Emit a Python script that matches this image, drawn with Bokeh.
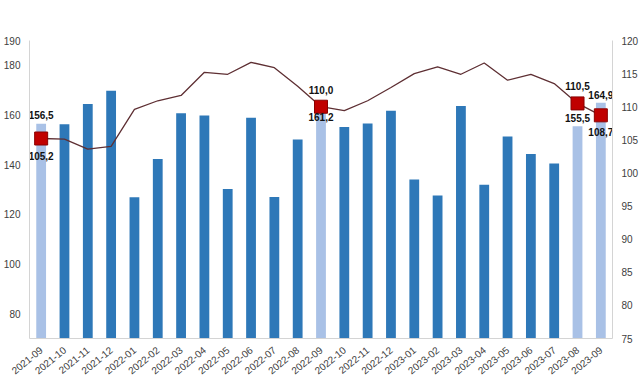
from bokeh.plotting import figure
from bokeh.models import Range1d, LinearAxis, FixedTicker, ColumnDataSource
from bokeh.embed import file_html
from bokeh.resources import INLINE
from bokeh.core.properties import value

# Monthly categories
months = [
    "2021-09", "2021-10", "2021-11", "2021-12",
    "2022-01", "2022-02", "2022-03", "2022-04", "2022-05", "2022-06",
    "2022-07", "2022-08", "2022-09", "2022-10", "2022-11", "2022-12",
    "2023-01", "2023-02", "2023-03", "2023-04", "2023-05", "2023-06",
    "2023-07", "2023-08", "2023-09",
]

# Bar series (left axis)
bar_values = [
    156.5, 156.3, 164.4, 169.8,
    126.9, 142.3, 160.7, 159.8, 130.2, 158.9,
    127.0, 150.1, 161.2, 155.2, 156.6, 161.7,
    134.0, 127.6, 163.6, 131.9, 151.3, 144.3,
    140.5, 155.5, 164.9,
]

# Line series (right axis)
line_values = [
    105.2, 105.1, 103.6, 104.0,
    109.6, 110.9, 111.7, 115.2, 114.9, 116.7,
    115.9, 113.1, 110.0, 109.4, 110.9, 112.9,
    115.0, 116.0, 114.9, 116.6, 114.0, 114.9,
    113.5, 110.5, 108.7,
]

# Months drawn in the pale colour, with markers and value labels
highlight_months = ["2021-09", "2022-09", "2023-08", "2023-09"]

left_ticks = [80, 100, 120, 140, 160, 180, 190]
right_ticks = [75, 80, 85, 90, 95, 100, 105, 110, 115, 120]

FONT = "Liberation Sans"
DARK_BAR = "#2e78b8"
LIGHT_BAR = "#a9c1e6"
LINE_COL = "#5e2f33"
MARKER_FILL = "#c00000"
MARKER_EDGE = "#8a0000"

# label offsets in screen pixels (positive = down)
bar_label_dy = {"2021-09": -9, "2022-09": 5, "2023-08": -8, "2023-09": -8}
line_label_dy = {"2021-09": 17, "2022-09": -17, "2023-08": -17, "2023-09": 17}


def fmt(v):
    return f"{v:.1f}".replace(".", ",")


colors = [LIGHT_BAR if m in highlight_months else DARK_BAR for m in months]
bars = ColumnDataSource(dict(month=months, val=bar_values, color=colors))
trend = ColumnDataSource(dict(month=months, val=line_values))

hi_bar_vals = [bar_values[months.index(m)] for m in highlight_months]
hi_line_vals = [line_values[months.index(m)] for m in highlight_months]

marks = ColumnDataSource(dict(month=highlight_months, val=hi_line_vals))
bar_lbl = ColumnDataSource(dict(
    month=highlight_months, val=hi_bar_vals,
    text=[fmt(v) for v in hi_bar_vals],
    dy=[bar_label_dy[m] for m in highlight_months],
))
line_lbl = ColumnDataSource(dict(
    month=highlight_months, val=hi_line_vals,
    text=[fmt(v) for v in hi_line_vals],
    dy=[line_label_dy[m] for m in highlight_months],
))

p = figure(
    x_range=months, y_range=Range1d(70, 190),
    width=641, height=380,
    output_backend="svg", toolbar_location=None,
    min_border_left=22, min_border_right=22,
    min_border_top=40, min_border_bottom=38,
)
p.extra_y_ranges = {"trend": Range1d(75, 120)}

p.vbar(x="month", top="val", bottom=70, width=0.42, source=bars,
       fill_color="color", line_color=None)

p.line(x="month", y="val", source=trend, y_range_name="trend",
       line_color=LINE_COL, line_width=1.3)
p.scatter(x="month", y="val", source=marks, y_range_name="trend",
          marker="square", size=13, fill_color=MARKER_FILL,
          line_color=MARKER_EDGE, line_width=1)

p.text(x="month", y="val", text="text", source=bar_lbl, y_offset="dy",
       text_align="center", text_baseline="middle",
       text_font=value(FONT), text_font_size="10px", text_font_style="bold",
       text_color="#111111")
p.text(x="month", y="val", text="text", source=line_lbl, y_offset="dy",
       y_range_name="trend",
       text_align="center", text_baseline="middle",
       text_font=value(FONT), text_font_size="10px", text_font_style="bold",
       text_color="#111111")

right_axis = LinearAxis(y_range_name="trend", ticker=FixedTicker(ticks=right_ticks))
p.add_layout(right_axis, "right")
p.yaxis[0].ticker = FixedTicker(ticks=left_ticks)

for ax in p.yaxis + p.xaxis:
    ax.axis_line_color = "#d4d4d4"
    ax.major_tick_line_color = None
    ax.minor_tick_line_color = None
    ax.major_label_text_font = FONT
    ax.major_label_text_font_size = "10px"
    ax.major_label_text_color = "#404040"
    ax.major_label_standoff = 3

p.xaxis.major_label_orientation = 0.68
p.xaxis.major_label_standoff = 4

p.xgrid.grid_line_color = None
p.ygrid.grid_line_color = None
p.outline_line_color = None
p.x_range.range_padding = 0.0

open("out.html", "w").write(file_html(p, INLINE))
